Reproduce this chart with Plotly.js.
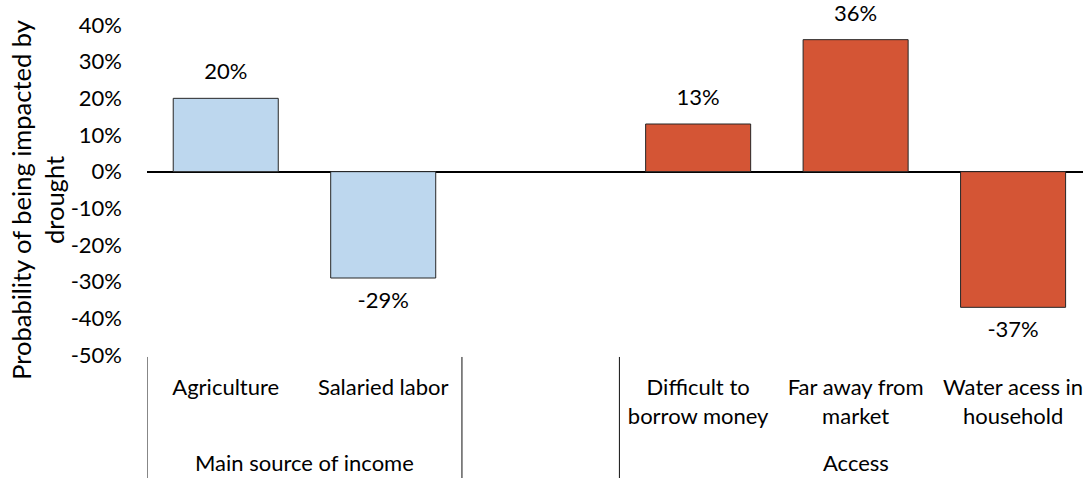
<!DOCTYPE html>
<html>
<head>
<meta charset="utf-8">
<script src="https://cdn.plot.ly/plotly-3.0.1.min.js"></script>
<style>html,body{margin:0;padding:0;background:#fff}#chart{width:1083px;height:478px}</style>
</head>
<body>
<div id="chart"></div>
<script>
// Data
const groups = ["Main source of income", "Main source of income", "", "Access", "Access", "Access"];
const categories = ["Agriculture", "Salaried labor", " ", "Difficult to<br>borrow money", "Far away from<br>market", "Water acess in<br>household"];
const values = [0.20, -0.29, null, 0.13, 0.36, -0.37];
const labels = ["20%", "-29%", "", "13%", "36%", "-37%"];
const yTickVals = [0.4, 0.3, 0.2, 0.1, 0, -0.1, -0.2, -0.3, -0.4, -0.5];
const yTickText = ["40%", "30%", "20%", "10%", "0%", "-10%", "-20%", "-30%", "-40%", "-50%"];
const yTitle = "Probability of being impacted by<br>drought";

const FONT = "Lato, 'Open Sans', sans-serif";
const FS = 22;
const BLUE = "#BDD7EE", ORANGE = "#D45535";
const colors = groups.map(g => g === "Access" ? ORANGE : BLUE);

const bars = {
  type: "bar",
  x: categories,
  y: values,
  marker: {color: colors, line: {color: "#262626", width: 1}},
  hoverinfo: "none",
  showlegend: false
};
const txt = {
  type: "scatter",
  mode: "markers+text",
  x: categories,
  y: values,
  text: labels,
  textposition: values.map(v => (v !== null && v < 0) ? "bottom center" : "top center"),
  textfont: {family: FONT, size: FS, color: "#000"},
  marker: {size: 20, opacity: 0},
  cliponaxis: false,
  hoverinfo: "none",
  showlegend: false
};

// group spans derived from the groups array
const spans = [];
groups.forEach((g, i) => {
  const last = spans[spans.length - 1];
  if (last && last.name === g) last.end = i;
  else spans.push({name: g, start: i, end: i});
});
const LBL_Y = -0.327, DIV_Y0 = -0.006, DIV_Y1 = -0.375;
const shapes = [];
spans.forEach(s => {
  shapes.push({type: "line", xref: "x", yref: "paper", x0: s.start - 0.5, x1: s.start - 0.5,
               y0: DIV_Y0, y1: DIV_Y1, line: {color: "#111", width: 1}});
});
const annotations = spans.filter(s => s.name).map(s => ({
  xref: "x", yref: "paper", x: (s.start + s.end) / 2, y: LBL_Y,
  text: s.name, showarrow: false, xanchor: "center", yanchor: "middle",
  font: {family: FONT, size: FS, color: "#000"}
}));
// y-axis title
annotations.push({
  xref: "paper", yref: "paper", x: -0.1165, y: 0.47,
  text: yTitle, textangle: -90, showarrow: false,
  xanchor: "center", yanchor: "middle",
  font: {family: FONT, size: 25.5, color: "#000"}
});

const layout = {
  width: 1083, height: 478,
  margin: {l: 147, r: 0, t: 25, b: 123},
  paper_bgcolor: "#fff", plot_bgcolor: "#fff",
  font: {family: FONT, size: FS, color: "#000"},
  bargap: 0.333,
  shapes: shapes,
  annotations: annotations,
  xaxis: {
    type: "category",
    range: [-0.5, 5.444],
    showgrid: false, zeroline: false, showline: false,
    ticks: "", ticklabelstandoff: 17,
    tickfont: {family: FONT, size: FS, color: "#000"}
  },
  yaxis: {
    range: [-0.5, 0.4],
    tickmode: "array", tickvals: yTickVals, ticktext: yTickText,
    showgrid: false, showline: false,
    zeroline: true, zerolinecolor: "#000", zerolinewidth: 2,
    ticks: "", ticklabelstandoff: 24,
    tickfont: {family: FONT, size: FS, color: "#000"}
  }
};

Plotly.newPlot("chart", [bars, txt], layout, {displayModeBar: false, staticPlot: true});
</script>
</body>
</html>
